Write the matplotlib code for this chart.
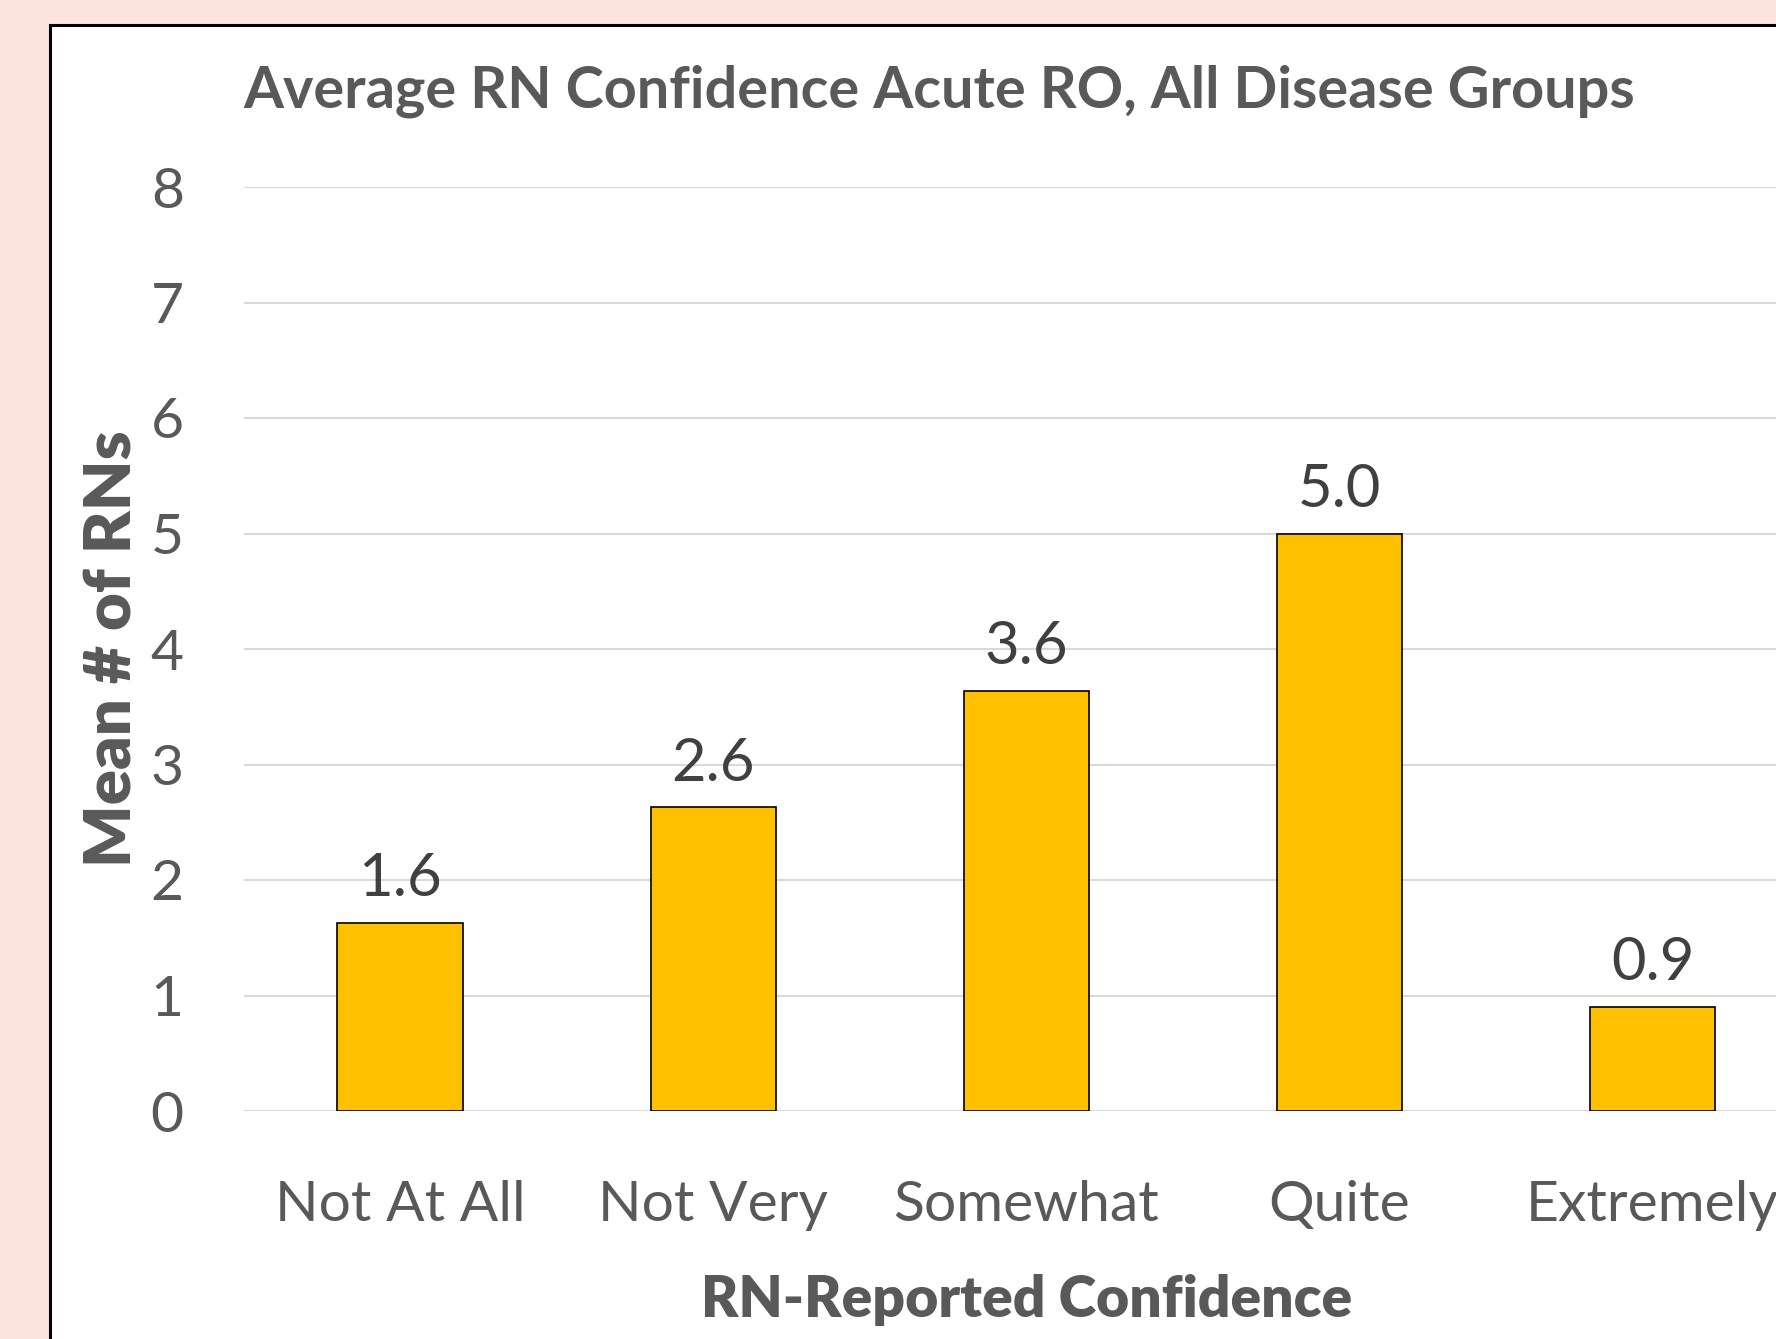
import matplotlib.pyplot as plt
from matplotlib.patches import Rectangle

categories = ["Not At All", "Not Very", "Somewhat", "Quite", "Extremely"]
mean_rns = [1.63, 2.63, 3.64, 5.0, 0.9]
yticks = [0, 1, 2, 3, 4, 5, 6, 7, 8]

plt.rcParams['font.family'] = ['Lato', 'DejaVu Sans']
grey = '#595959'

fig = plt.figure(figsize=(17.76, 13.39), dpi=100, facecolor='#FCE4DE')

# white chart box with black frame (cut off on the right and bottom)
box = Rectangle((50 / 1776, -0.05), 1.2, 1 - 25 / 1339 + 0.05, transform=fig.transFigure,
                facecolor='white', edgecolor='black', linewidth=2.2, zorder=-1)
fig.add_artist(box)

ax = fig.add_axes([243.5 / 1776, 228 / 1339, 1 - 243.5 / 1776, 924 / 1339])
ax.set_facecolor('none')

x = range(len(categories))
bars = ax.bar(x, mean_rns, width=0.4, color='#FFC000', edgecolor='black', linewidth=1.2, zorder=3)
for b, v in zip(bars, mean_rns):
    ax.annotate(f"{v:.1f}", (b.get_x() + b.get_width() / 2, v), xytext=(0, 12),
                textcoords='offset points', ha='center', va='bottom', fontsize=43, color='#404040')

ax.set_xlim(-0.5, 4.394)
ax.set_ylim(0, 8)
ax.set_yticks(yticks)
ax.set_xticks(list(x))
ax.set_xticklabels(categories)
ax.grid(axis='y', color='#D9D9D9', linewidth=1.5, zorder=0)
for s in ax.spines.values():
    s.set_visible(False)
ax.tick_params(axis='both', length=0, labelsize=41, labelcolor=grey)
ax.tick_params(axis='y', pad=43)
ax.tick_params(axis='x', pad=50)

ax.set_ylabel("Mean # of RNs", fontsize=47, fontweight='heavy', color=grey, va='center')
ax.yaxis.set_label_coords(-0.0852, 0.5)
ax.set_xlabel("RN-Reported Confidence", fontsize=41, fontweight='heavy', color=grey, va='center')
ax.xaxis.set_label_coords(0.5108, -0.2045)

fig.text(0.5287, 1 - 91 / 1339, "Average RN Confidence Acute RO, All Disease Groups",
         ha='center', va='center', fontsize=41.5, fontweight='bold', color=grey)

plt.savefig("out.png", dpi=100)
